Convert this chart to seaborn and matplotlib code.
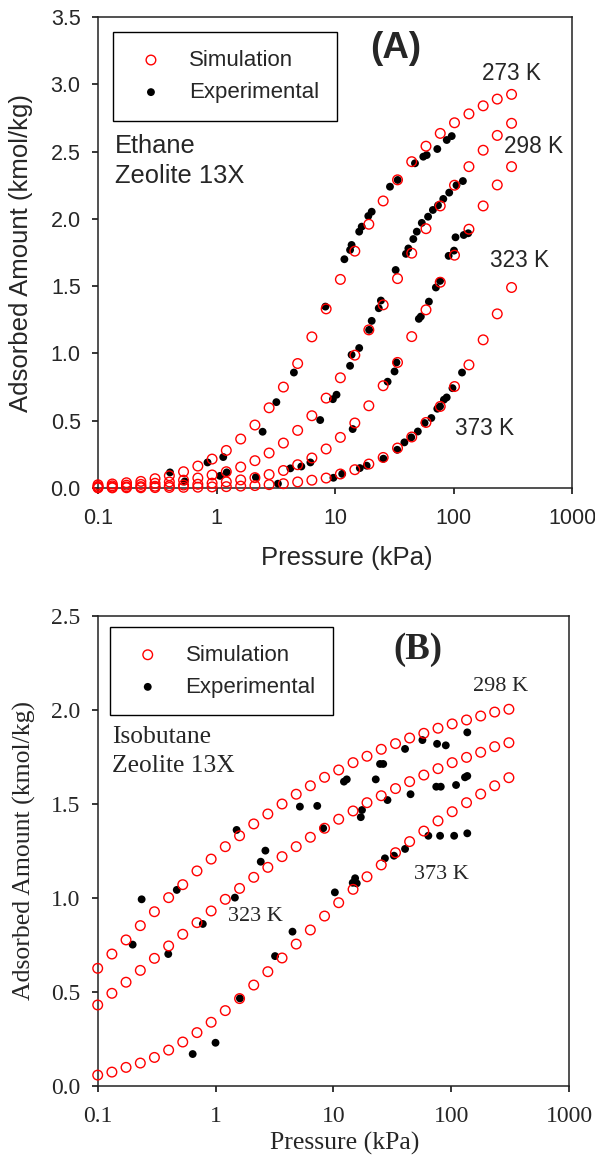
import numpy as np
import pandas as pd
import matplotlib
matplotlib.use('Agg')
import matplotlib.pyplot as plt
import seaborn as sns

# simulation pressure grid (kPa), shared by all isotherms
P_SIM = [0.100, 0.132, 0.174, 0.230, 0.303, 0.400, 0.527, 0.696, 0.918, 1.21,
         1.60, 2.11, 2.78, 3.67, 4.84, 6.38, 8.42, 11.1, 14.7, 19.3,
         25.5, 33.7, 44.4, 58.6, 77.3, 102, 135, 178, 234, 309]

# (A) ethane, simulation
ETH_SIM_273 = [0.024, 0.030, 0.039, 0.049, 0.069, 0.091, 0.121, 0.163, 0.215, 0.279,
               0.364, 0.468, 0.596, 0.750, 0.925, 1.123, 1.331, 1.55, 1.76, 1.96,
               2.133, 2.29, 2.425, 2.54, 2.635, 2.714, 2.78, 2.84, 2.89, 2.925]
ETH_SIM_298 = [0.012, 0.016, 0.021, 0.027, 0.035, 0.045, 0.058, 0.074, 0.097, 0.121,
               0.156, 0.203, 0.26, 0.334, 0.428, 0.537, 0.668, 0.819, 0.987, 1.175,
               1.361, 1.556, 1.745, 1.927, 2.096, 2.25, 2.388, 2.51, 2.62, 2.71]
ETH_SIM_323 = [0.005, 0.006, 0.008, 0.010, 0.013, 0.017, 0.022, 0.028, 0.036, 0.046,
               0.060, 0.077, 0.10, 0.13, 0.173, 0.223, 0.29, 0.376, 0.483, 0.611,
               0.76, 0.933, 1.125, 1.324, 1.529, 1.73, 1.923, 2.096, 2.252, 2.388]
ETH_SIM_373 = [0.001, 0.001, 0.002, 0.002, 0.003, 0.004, 0.005, 0.006, 0.008, 0.010,
               0.014, 0.018, 0.025, 0.032, 0.045, 0.058, 0.074, 0.104, 0.136, 0.178,
               0.227, 0.297, 0.379, 0.487, 0.606, 0.754, 0.915, 1.101, 1.294, 1.49]

# (A) ethane, experimental
ETH_EXP_273_P = [0.405, 0.84, 1.14, 2.45, 3.2, 4.5, 8.3, 12.0, 13.4, 13.8, 16.0, 16.8,
                 19.1, 20.4, 29.1, 33.8, 47.3, 55.6, 59.4, 73, 87.7, 96.6]
ETH_EXP_273_Q = [0.116, 0.19, 0.23, 0.418, 0.638, 0.858, 1.348, 1.70, 1.769, 1.806, 1.905, 1.942,
                 2.021, 2.053, 2.239, 2.289, 2.413, 2.462, 2.474, 2.519, 2.586, 2.615]
ETH_EXP_298_P = [0.54, 1.07, 1.22, 7.5, 9.6, 10.3, 13.4, 13.8, 16.0, 19.4, 20.4, 23.4, 24.4,
                 32.5, 39.7, 41.6, 45.8, 49, 54, 61, 67, 74, 82, 92, 106, 120]
ETH_EXP_298_Q = [0.049, 0.09, 0.116, 0.505, 0.66, 0.693, 0.908, 0.99, 1.04, 1.175, 1.242, 1.336, 1.393,
                 1.62, 1.74, 1.78, 1.85, 1.905, 1.97, 2.016, 2.066, 2.10, 2.148, 2.195, 2.25, 2.281]
ETH_EXP_323_P = [2.15, 4.2, 5.2, 6.2, 14.1, 27.8, 31.8, 33, 51, 53, 62, 71, 77, 91, 101, 104, 122, 133]
ETH_EXP_323_Q = [0.08, 0.146, 0.16, 0.19, 0.438, 0.79, 0.866, 0.933, 1.257, 1.274, 1.385, 1.49, 1.539,
                 1.725, 1.764, 1.863, 1.88, 1.893]
ETH_EXP_373_P = [3.3, 9.7, 11.5, 16.2, 18.5, 25.6, 33.5, 38.5, 44, 50, 57, 65, 73, 77, 83, 87.6, 98, 118]
ETH_EXP_373_Q = [0.032, 0.076, 0.105, 0.148, 0.166, 0.218, 0.284, 0.339, 0.376, 0.42, 0.483, 0.52,
                 0.589, 0.606, 0.656, 0.673, 0.742, 0.858]

# (B) isobutane, simulation
ISO_SIM_298 = [0.626, 0.702, 0.777, 0.853, 0.927, 1.002, 1.071, 1.144, 1.207, 1.273,
               1.331, 1.394, 1.447, 1.50, 1.552, 1.597, 1.642, 1.681, 1.72, 1.754,
               1.791, 1.821, 1.851, 1.876, 1.903, 1.926, 1.947, 1.968, 1.989, 2.004]
ISO_SIM_323 = [0.431, 0.493, 0.552, 0.615, 0.679, 0.745, 0.807, 0.869, 0.931, 0.993,
               1.051, 1.11, 1.163, 1.22, 1.273, 1.323, 1.371, 1.419, 1.463, 1.507,
               1.544, 1.582, 1.619, 1.654, 1.688, 1.72, 1.748, 1.775, 1.805, 1.826]
ISO_SIM_373 = [0.058, 0.074, 0.099, 0.122, 0.152, 0.191, 0.234, 0.284, 0.339, 0.401,
               0.465, 0.537, 0.608, 0.681, 0.755, 0.83, 0.904, 0.975, 1.046, 1.113,
               1.176, 1.241, 1.30, 1.356, 1.41, 1.459, 1.507, 1.553, 1.597, 1.64]

# (B) isobutane, experimental
ISO_EXP_298_P = [0.198, 0.236, 0.469, 1.51, 5.2, 7.3, 12.3, 13, 22.9, 24.9, 26.5, 40.6, 57, 75.9, 90, 137]
ISO_EXP_298_Q = [0.752, 0.993, 1.043, 1.362, 1.486, 1.49, 1.619, 1.631, 1.631, 1.713, 1.713, 1.793,
                 1.84, 1.82, 1.812, 1.881]
ISO_EXP_323_P = [0.397, 0.78, 1.46, 2.42, 2.65, 8.2, 17.1, 17.5, 28.8, 45.2, 74.7, 81.6, 110, 131, 137]
ISO_EXP_323_Q = [0.702, 0.862, 1.002, 1.193, 1.252, 1.371, 1.43, 1.468, 1.521, 1.552, 1.592, 1.592,
                 1.601, 1.642, 1.649]
ISO_EXP_373_P = [0.64, 1.0, 1.61, 3.2, 4.5, 10.3, 14.6, 15.3, 15.8, 27.4, 32.7, 40.6, 64, 80.5, 106, 137]
ISO_EXP_373_Q = [0.17, 0.23, 0.466, 0.691, 0.821, 1.03, 1.081, 1.105, 1.078, 1.211, 1.225, 1.261,
                 1.331, 1.331, 1.331, 1.344]

X_TICKS = [0.1, 1, 10, 100, 1000]
X_TICK_LABELS = ['0.1', '1', '10', '100', '1000']


def sim_frame(series):
    rows = []
    for temp, vals in series.items():
        rows.append(pd.DataFrame({'P': P_SIM, 'Q': vals, 'T': temp}))
    return pd.concat(rows, ignore_index=True)


def exp_frame(series):
    rows = []
    for temp, (p, q) in series.items():
        rows.append(pd.DataFrame({'P': p, 'Q': q, 'T': temp}))
    return pd.concat(rows, ignore_index=True)


eth_sim = sim_frame({'273 K': ETH_SIM_273, '298 K': ETH_SIM_298,
                     '323 K': ETH_SIM_323, '373 K': ETH_SIM_373})
eth_exp = exp_frame({'273 K': (ETH_EXP_273_P, ETH_EXP_273_Q), '298 K': (ETH_EXP_298_P, ETH_EXP_298_Q),
                     '323 K': (ETH_EXP_323_P, ETH_EXP_323_Q), '373 K': (ETH_EXP_373_P, ETH_EXP_373_Q)})
iso_sim = sim_frame({'298 K': ISO_SIM_298, '323 K': ISO_SIM_323, '373 K': ISO_SIM_373})
iso_exp = exp_frame({'298 K': (ISO_EXP_298_P, ISO_EXP_298_Q), '323 K': (ISO_EXP_323_P, ISO_EXP_323_Q),
                     '373 K': (ISO_EXP_373_P, ISO_EXP_373_Q)})

sns.set_style("ticks")
plt.rcParams['font.family'] = ['Liberation Sans', 'DejaVu Sans']

fig = plt.figure(figsize=(5.95, 11.6), dpi=100)
ax_a = fig.add_axes([98 / 595, 1 - 488 / 1160, 474 / 595, 471 / 1160])
ax_b = fig.add_axes([97.7 / 595, 1 - 1086 / 1160, 471.3 / 595, 470 / 1160])


def draw_panel(ax, sim, exp, ymax, serif):
    fam = 'Liberation Serif' if serif else 'Liberation Sans'
    sns.scatterplot(data=exp, x='P', y='Q', ax=ax, marker='o', color='black',
                    edgecolor='none', s=32, clip_on=False, zorder=3, label='Experimental')
    sns.scatterplot(data=sim, x='P', y='Q', ax=ax, marker='o', facecolor='none',
                    edgecolor='red', linewidth=1.0, s=48, clip_on=False, zorder=4, label='Simulation')
    ax.set_xscale('log')
    ax.set_xlim(0.1, 1000)
    ax.set_ylim(0, ymax)
    ax.minorticks_off()
    ax.set_xticks(X_TICKS)
    ax.set_xticklabels(X_TICK_LABELS)
    yt = np.arange(0, ymax + 0.01, 0.5)
    ax.set_yticks(yt)
    ax.set_yticklabels([f'{v:.1f}' for v in yt])
    ax.tick_params(axis='both', direction='out', length=4.5, width=1.1, color='black',
                   labelsize=15.5 if not serif else 17, pad=8)
    ax.tick_params(axis='x', pad=10)
    for lab in ax.get_xticklabels() + ax.get_yticklabels():
        lab.set_family(fam)
    for sp in ax.spines.values():
        sp.set_visible(True)
        sp.set_linewidth(1.1)
        sp.set_color('#222222')
    ax.set_xlabel('Pressure (kPa)', fontsize=18.5, family=fam)
    ax.set_ylabel('Adsorbed Amount (kmol/kg)', fontsize=18.5, family=fam)
    handles, labels = ax.get_legend_handles_labels()
    order = [labels.index('Simulation'), labels.index('Experimental')]
    return [handles[i] for i in order], [labels[i] for i in order]


def add_legend(ax, h, l, anchor):
    leg = ax.legend(h, l, loc='upper left', bbox_to_anchor=anchor, borderaxespad=0,
                    fontsize=16, handlelength=1.8, handletextpad=0.8, borderpad=0.8,
                    labelspacing=0.5, fancybox=False, framealpha=1, edgecolor='black')
    leg.get_frame().set_linewidth(1.0)
    return leg


h, l = draw_panel(ax_a, eth_sim, eth_exp, 3.5, serif=False)
add_legend(ax_a, h, l, (0.032, 0.968))
ax_a.xaxis.set_label_coords(0.525, -0.123)
ax_a.yaxis.set_label_coords(-0.137, 0.5)

ax_a.text(0.629, 0.934, '(A)', transform=ax_a.transAxes, ha='center', va='center',
          fontsize=26.5, fontweight='bold')
ax_a.text(0.036, 0.726, 'Ethane', transform=ax_a.transAxes, ha='left', va='center', fontsize=18.4)
ax_a.text(0.036, 0.662, 'Zeolite 13X', transform=ax_a.transAxes, ha='left', va='center', fontsize=18.4)
for txt, x, y in [('273 K', 0.810, 0.881), ('298 K', 0.857, 0.724),
                  ('323 K', 0.827, 0.484), ('373 K', 0.753, 0.127)]:
    ax_a.text(x, y, txt, transform=ax_a.transAxes, ha='left', va='center', fontsize=16.3)

h, l = draw_panel(ax_b, iso_sim, iso_exp, 2.5, serif=True)
add_legend(ax_b, h, l, (0.026, 0.977))
ax_b.xaxis.set_label_coords(0.524, -0.098)
ax_b.yaxis.set_label_coords(-0.131, 0.5)

ax_b.text(0.680, 0.928, '(B)', transform=ax_b.transAxes, ha='center', va='center',
          fontsize=26.5, fontweight='bold', family='Liberation Serif')
ax_b.text(0.030, 0.743, 'Isobutane', transform=ax_b.transAxes, ha='left', va='center',
          fontsize=18.4, family='Liberation Serif')
ax_b.text(0.030, 0.681, 'Zeolite 13X', transform=ax_b.transAxes, ha='left', va='center',
          fontsize=18.4, family='Liberation Serif')
for txt, x, y in [('298 K', 0.796, 0.849), ('323 K', 0.276, 0.360), ('373 K', 0.671, 0.451)]:
    ax_b.text(x, y, txt, transform=ax_b.transAxes, ha='left', va='center', fontsize=16,
              family='Liberation Serif')

fig.savefig('out.png', dpi=100)
